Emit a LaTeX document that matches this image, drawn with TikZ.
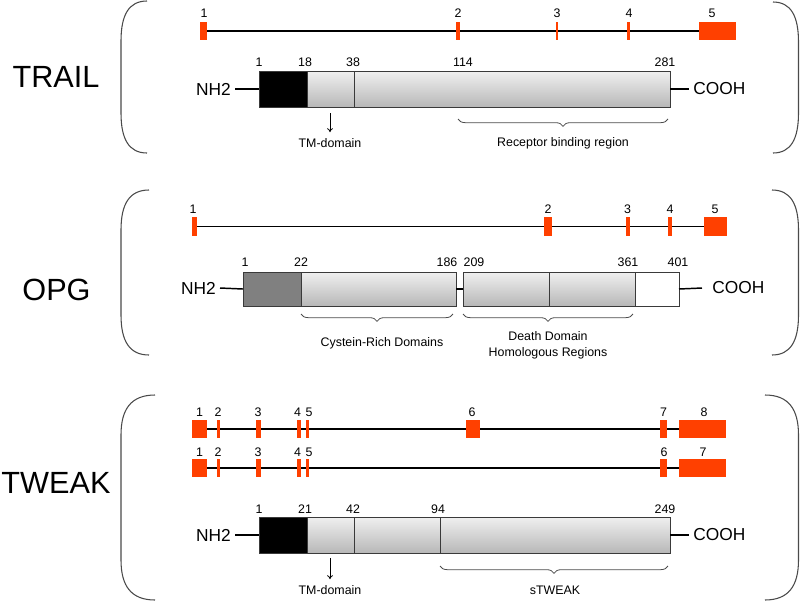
\documentclass[tikz,border=0pt]{standalone}
\usepackage{fontspec}
\setmainfont{Liberation Sans}
\usetikzlibrary{decorations.pathreplacing,backgrounds,arrows.meta}
\definecolor{exred}{HTML}{FF4000}
\definecolor{parcol}{HTML}{4A4A4A}
\definecolor{edgecol}{HTML}{3A3A3A}
% rectangle node: name, x1, x2, y1, y2, style
\newcommand\rbox[6]{\node[#6, minimum width={(#3-#2)*0.75pt}, minimum height={(#5-#4)*0.75pt}] (#1) at ({(#2+#3)/2},{(#4+#5)/2}) {};}
% left parenthesis: x end, y top, y bottom
\newcommand\lpar[3]{\draw[paren] (#1,#2) .. controls ({#1-0.7*(#1-121)},#2) and (121,{#2+14}) .. (121,{#2+40}) -- (121,{#3-40}) .. controls (121,{#3-14}) and ({#1-0.7*(#1-121)},#3) .. (#1,#3);}
\newcommand\rpar[3]{\draw[paren] (#1,#2) .. controls ({#1+0.7*(798.5-#1)},#2) and (798.5,{#2+14}) .. (798.5,{#2+40}) -- (798.5,{#3-40}) .. controls (798.5,{#3-14}) and ({#1+0.7*(798.5-#1)},#3) .. (#1,#3);}
\begin{document}
\begin{tikzpicture}[x=0.75pt,y=-0.75pt,
  exon/.style={fill=exred, draw=none, inner sep=0pt, outer sep=0pt},
  segbase/.style={draw=edgecol, line width=0.7pt, inner sep=0pt, outer sep=0pt},
  greyseg/.style={segbase, top color=black!6, bottom color=black!28},
  blackseg/.style={segbase, fill=black},
  darkseg/.style={segbase, fill=black!50},
  whiteseg/.style={segbase, fill=white},
  big/.style={font=\fontsize{23}{27}\selectfont, inner sep=0pt},
  term/.style={font=\fontsize{13}{15}\selectfont, inner xsep=3pt, inner ysep=0pt},
  num/.style={font=\fontsize{9.3}{11}\selectfont, inner sep=0pt},
  lab/.style={font=\fontsize{9.3}{12}\selectfont, inner sep=0pt, align=center},
  gline/.style={line width=1.1pt, black},
  pline/.style={line width=1.1pt, black},
  paren/.style={draw=parcol, line width=0.8pt},
  bracedown/.style={draw=black!70, line width=0.6pt, decorate, decoration={brace, mirror, amplitude=5.5pt}},
  tmarrow/.style={line width=0.6pt, -{To[length=3pt,width=4.5pt]}}
]
\useasboundingbox (0,0) rectangle (800,601);

% ================= TRAIL =================
\node[big] (trail) at (56,77) {TRAIL};
\lpar{147}{1}{153}
\rpar{773}{2}{153}
% gene
\rbox{te1}{200}{207}{22}{40}{exon}
\rbox{te2}{456}{460}{22}{40}{exon}
\rbox{te3}{556}{558}{22}{40}{exon}
\rbox{te4}{627}{630}{22}{40}{exon}
\rbox{te5}{699}{736}{22}{40}{exon}
\begin{pgfonlayer}{background}
\draw[gline] (te1.east) -- (te5.west);
\end{pgfonlayer}
\node[num] at (204,13.5) {1};
\node[num] at (458,13.5) {2};
\node[num] at (557,13.5) {3};
\node[num] at (629,13.5) {4};
\node[num] at (712,13.5) {5};
% protein
\rbox{tp1}{259}{307}{71}{107}{blackseg}
\rbox{tp2}{307}{354}{71}{107}{greyseg}
\rbox{tp3}{354}{670}{71}{107}{greyseg}
\node[term, anchor=east] (tn) at (235,89) {NH2};
\node[term, anchor=west] (tc) at (689,89) {COOH};
\draw[pline] (tn.east) -- (tp1.west);
\draw[pline] (tp3.east) -- (tc.west);
\node[num] at (259,62) {1};
\node[num] at (305,62) {18};
\node[num] at (353,62) {38};
\node[num] at (463,62) {114};
\node[num] at (665,62) {281};
\coordinate (ttmA) at (330,113);
\node[lab] (ttm) at (330,143) {TM-domain};
\draw[tmarrow] (ttmA) -- ([yshift=4.5pt]ttm.north);
\coordinate (trbA) at (458,119);
\coordinate (trbB) at (668,119);
\draw[bracedown] (trbA) -- (trbB);
\node[lab] (trb) at (563,143) {Receptor binding region};

% ================= OPG =================
\node[big] (opg) at (56.5,290) {OPG};
\lpar{149}{190}{355}
\rpar{772}{190}{355}
\rbox{oe1}{192}{197}{217}{236}{exon}
\rbox{oe2}{544}{552}{217}{236}{exon}
\rbox{oe3}{626}{630}{217}{236}{exon}
\rbox{oe4}{668}{672}{217}{236}{exon}
\rbox{oe5}{704}{727}{217}{236}{exon}
\begin{pgfonlayer}{background}
\draw[gline] (oe1.east) -- (oe5.west);
\end{pgfonlayer}
\node[num] at (193,209.5) {1};
\node[num] at (548,209.5) {2};
\node[num] at (627.5,209.5) {3};
\node[num] at (670,209.5) {4};
\node[num] at (715,209.5) {5};
\rbox{op1}{243}{301}{272}{306}{darkseg}
\rbox{op2}{301}{456}{272}{306}{greyseg}
\rbox{op3}{463}{549}{272}{306}{greyseg}
\rbox{op4}{549}{635}{272}{306}{greyseg}
\rbox{op5}{635}{679}{272}{306}{whiteseg}
\node[term, anchor=east] (on) at (220,288) {NH2};
\node[term, anchor=west] (oc) at (708,288) {COOH};
\draw[pline] (on.east) -- (op1.west);
\draw[pline] (op2.east) -- (op3.west);
\draw[pline] (op5.east) -- ([xshift=-4.5pt]oc.west);
\node[num] at (245,262) {1};
\node[num] at (301,262) {22};
\node[num] at (447,262) {186};
\node[num] at (474,262) {209};
\node[num] at (628,262) {361};
\node[num] at (678,262) {401};
\coordinate (ocrA) at (301,314);
\coordinate (ocrB) at (453,314);
\draw[bracedown] (ocrA) -- (ocrB);
\node[lab] (ocr) at (382,343) {Cystein-Rich Domains};
\coordinate (oddA) at (463,314);
\coordinate (oddB) at (633,314);
\draw[bracedown] (oddA) -- (oddB);
\node[lab] (odd) at (548,345) {Death Domain\\Homologous Regions};

% ================= TWEAK =================
\node[big] (tweak) at (56,483) {TWEAK};
\lpar{155}{395}{600}
\rpar{765}{395}{600}
% transcript 1
\rbox{wa1}{192}{207}{420}{438}{exon}
\rbox{wa2}{217}{220}{420}{438}{exon}
\rbox{wa3}{256}{261}{420}{438}{exon}
\rbox{wa4}{297}{301}{420}{438}{exon}
\rbox{wa5}{306}{308.5}{420}{438}{exon}
\rbox{wa6}{466}{480}{420}{438}{exon}
\rbox{wa7}{660}{667}{420}{438}{exon}
\rbox{wa8}{679}{726}{420}{438}{exon}
% transcript 2
\rbox{wb1}{192}{207}{459}{477}{exon}
\rbox{wb2}{217}{220}{459}{477}{exon}
\rbox{wb3}{256}{261}{459}{477}{exon}
\rbox{wb4}{297}{301}{459}{477}{exon}
\rbox{wb5}{306}{308.5}{459}{477}{exon}
\rbox{wb6}{660}{667}{459}{477}{exon}
\rbox{wb7}{679}{726}{459}{477}{exon}
\begin{pgfonlayer}{background}
\draw[gline] (wa1.east) -- (wa8.west);
\draw[gline] (wb1.east) -- (wb7.west);
\end{pgfonlayer}
\node[num] at (199.5,412) {1};
\node[num] at (218,412) {2};
\node[num] at (258,412) {3};
\node[num] at (297.5,412) {4};
\node[num] at (309,412) {5};
\node[num] at (472,412) {6};
\node[num] at (663.5,412) {7};
\node[num] at (704,412) {8};
\node[num] at (199.5,452) {1};
\node[num] at (218,452) {2};
\node[num] at (258,452) {3};
\node[num] at (297.5,452) {4};
\node[num] at (309,452) {5};
\node[num] at (664,452) {6};
\node[num] at (703,452) {7};
% protein
\rbox{wp1}{259}{307}{517}{553}{blackseg}
\rbox{wp2}{307}{354}{517}{553}{greyseg}
\rbox{wp3}{354}{440}{517}{553}{greyseg}
\rbox{wp4}{440}{670}{517}{553}{greyseg}
\node[term, anchor=east] (wn) at (235,535) {NH2};
\node[term, anchor=west] (wc) at (689,535) {COOH};
\draw[pline] (wn.east) -- (wp1.west);
\draw[pline] (wp4.east) -- (wc.west);
\node[num] at (259,509) {1};
\node[num] at (305,509) {21};
\node[num] at (353,509) {42};
\node[num] at (438,509) {94};
\node[num] at (665,509) {249};
\coordinate (wtmA) at (330,558);
\node[lab] (wtm) at (330,590) {TM-domain};
\draw[tmarrow] (wtmA) -- ([yshift=4.5pt]wtm.north);
\coordinate (wsA) at (440,566);
\coordinate (wsB) at (668,566);
\draw[bracedown] (wsA) -- (wsB);
\node[lab] (ws) at (555,590) {sTWEAK};
\end{tikzpicture}
\end{document}
